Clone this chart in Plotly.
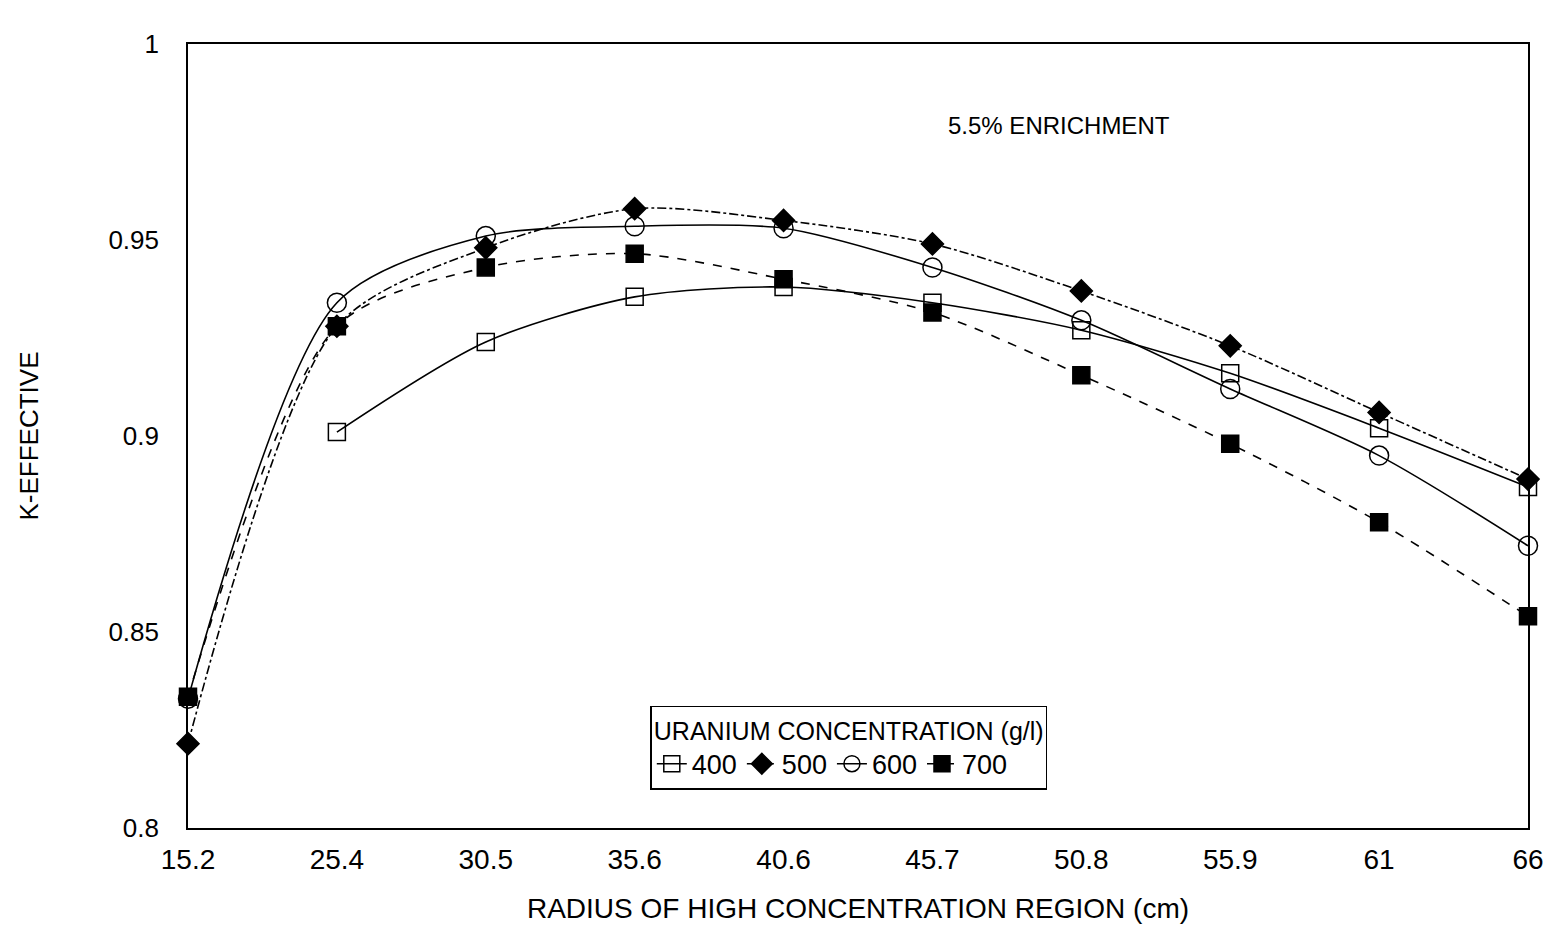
import plotly.graph_objects as go

radius = ["15.2", "25.4", "30.5", "35.6", "40.6", "45.7", "50.8", "55.9", "61", "66"]
k400 = [None, 0.901, 0.924, 0.9355, 0.938, 0.934, 0.927, 0.916, 0.902, 0.887]
k500 = [0.8215, 0.928, 0.948, 0.958, 0.955, 0.949, 0.937, 0.923, 0.906, 0.889]
k600 = [0.833, 0.934, 0.951, 0.9535, 0.953, 0.943, 0.9295, 0.912, 0.895, 0.872]
k700 = [0.8335, 0.928, 0.943, 0.9465, 0.940, 0.9315, 0.9155, 0.898, 0.878, 0.854]

series = [
    ("400", k400, "square-open", "solid", 17),
    ("500", k500, "diamond", "dashdot", 17),
    ("600", k600, "circle-open", "solid", 19),
    ("700", k700, "square", "dash", 17),
]

fig = go.Figure()
for name, vals, sym, dash, size in series:
    fig.add_trace(go.Scatter(
        x=list(range(len(radius))), y=vals, name=name, mode="lines+markers",
        line=dict(color="black", width=1.6, dash=dash, shape="spline", smoothing=0.8),
        marker=dict(symbol=sym, size=size, color="black", line=dict(color="black", width=1.5)),
        cliponaxis=False, connectgaps=False,
    ))

font = "Liberation Sans, Arial, sans-serif"
fig.update_layout(
    width=1546, height=916,
    margin=dict(l=180, r=26, t=36, b=96),
    plot_bgcolor="white", paper_bgcolor="white",
    font=dict(family=font, size=26, color="black"),
    showlegend=True,
    legend=dict(
        title=dict(text="URANIUM CONCENTRATION (g/l)", side="top", font=dict(size=25)),
        orientation="h", x=0.345, y=0.156, xanchor="left", yanchor="top",
        bordercolor="black", borderwidth=1.5, bgcolor="white",
        font=dict(size=27), itemwidth=30, tracegroupgap=0,
    ),
    xaxis=dict(
        range=[0, 9], tickmode="array", tickvals=list(range(len(radius))), ticktext=radius,
        showgrid=False, zeroline=False, showline=True, linecolor="black", linewidth=1.6,
        mirror=True, ticks="outside", ticklen=6, tickcolor="white", automargin=False,
        title=dict(text="RADIUS OF HIGH CONCENTRATION REGION (cm)", font=dict(size=28), standoff=24),
        tickfont=dict(size=28),
    ),
    yaxis=dict(
        range=[0.8, 1.0], tickmode="array", tickvals=[0.8, 0.85, 0.9, 0.95, 1.0],
        ticktext=["0.8", "0.85", "0.9", "0.95", "1"],
        showgrid=False, zeroline=False, showline=True, linecolor="black", linewidth=1.6,
        mirror=True, ticks="outside", ticklen=22, tickcolor="white", automargin=False,
        title=dict(text="K-EFFECTIVE", font=dict(size=26), standoff=62),
        tickfont=dict(size=26),
    ),
    annotations=[dict(
        text="5.5% ENRICHMENT", xref="paper", yref="paper", x=0.650, y=0.896,
        showarrow=False, font=dict(size=24), xanchor="center", yanchor="middle",
    )],
)

fig.write_html("out.html")
